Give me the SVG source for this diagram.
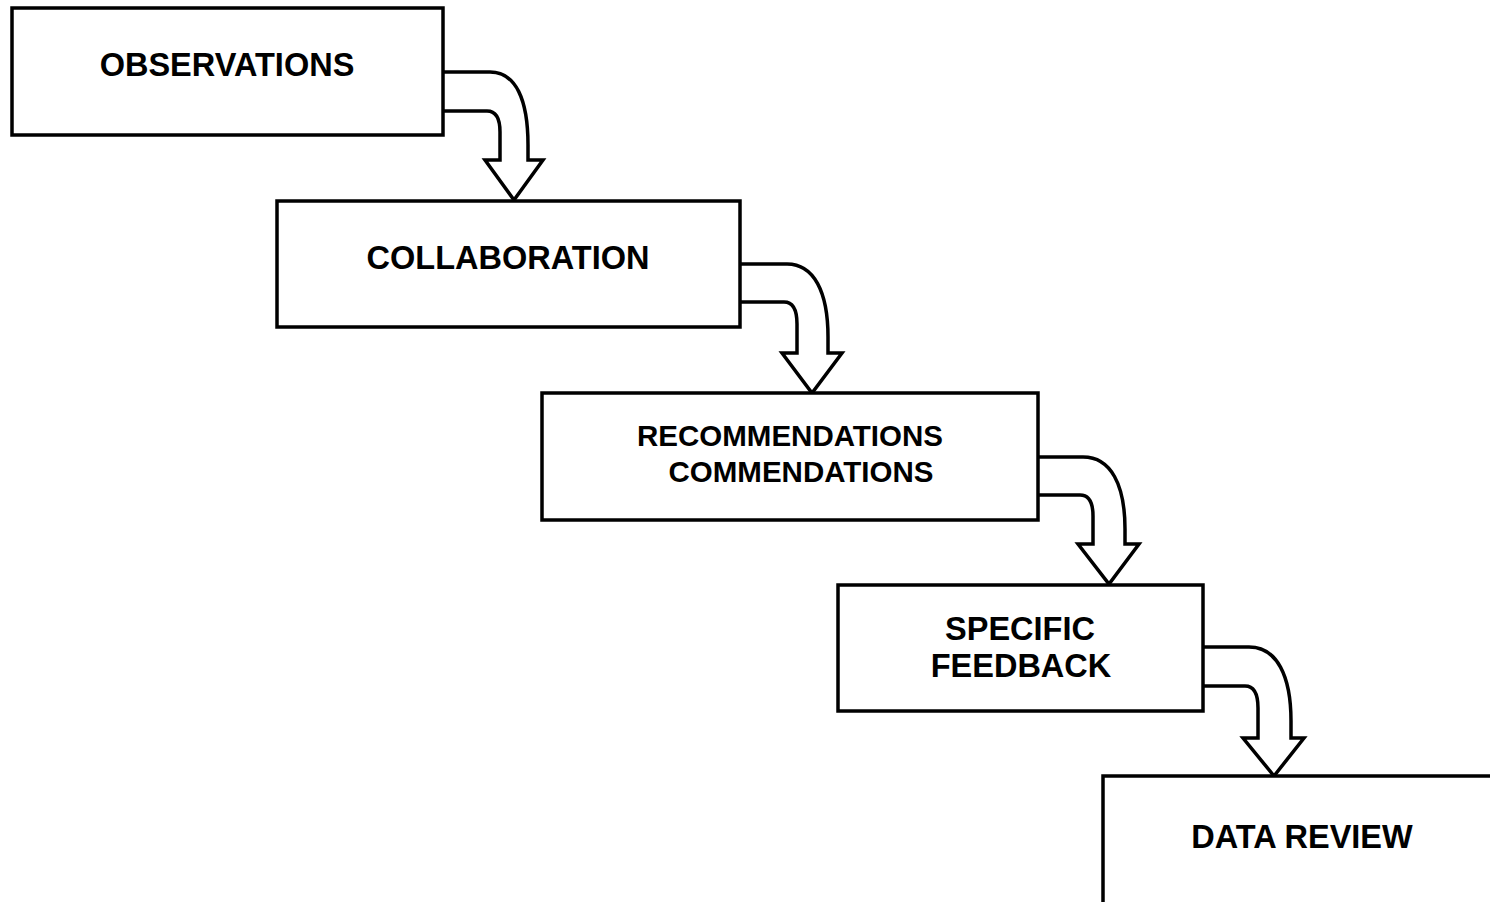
<svg xmlns="http://www.w3.org/2000/svg" width="1490" height="902" viewBox="0 0 1490 902">
<style>
.box{fill:#fff;stroke:#000;stroke-width:3.5}
.arr{fill:#fff;stroke:#000;stroke-width:3.5;stroke-linejoin:miter}
.t{font-family:"Liberation Sans",Arial,sans-serif;font-weight:bold;font-size:32.5px;text-anchor:middle;fill:#000}
.s{font-size:29.5px}
</style>
<rect width="1490" height="902" fill="#fff"/>
<g id="connectors">
<path class="arr" d="M443,72 H490 C516,72 528,100 528,145 V160 H543 L514,200 L485,160 H500 V132 C500,118 496,111 487,111 H443"/>
<path class="arr" d="M740,264 H787 C814,264 828,292 828,337 V353 H842 L812,393 L782,353 H797 V324 C797,310 793,302 784,302 H740"/>
<path class="arr" d="M1038,457 H1083 C1111,457 1125,485 1125,529 V544 H1139 L1109,584 L1078,544 H1093 V516 C1093,502 1089,495 1080,495 H1038"/>
<path class="arr" d="M1203,647 H1249 C1277,647 1291,676 1291,721 V738 H1304 L1274,776 L1243,738 H1258 V708 C1258,694 1254,686 1245,686 H1203"/>
</g>
<g id="observations">
<rect class="box" x="12" y="8" width="431" height="127"/>
<text class="t" x="227" y="76">OBSERVATIONS</text>
</g>
<g id="collaboration">
<rect class="box" x="277" y="201" width="463" height="126"/>
<text class="t" x="508" y="269">COLLABORATION</text>
</g>
<g id="recommendations">
<rect class="box" x="542" y="393" width="496" height="127"/>
<text class="t s" x="790" y="446">RECOMMENDATIONS</text>
<text class="t s" x="801" y="482">COMMENDATIONS</text>
</g>
<g id="specific-feedback">
<rect class="box" x="838" y="585" width="365" height="126"/>
<text class="t" x="1020" y="640">SPECIFIC</text>
<text class="t" x="1021" y="677">FEEDBACK</text>
</g>
<g id="data-review">
<path class="box" d="M1103,910 V776 H1500"/>
<text class="t" x="1302" y="848">DATA REVIEW</text>
</g>
</svg>
